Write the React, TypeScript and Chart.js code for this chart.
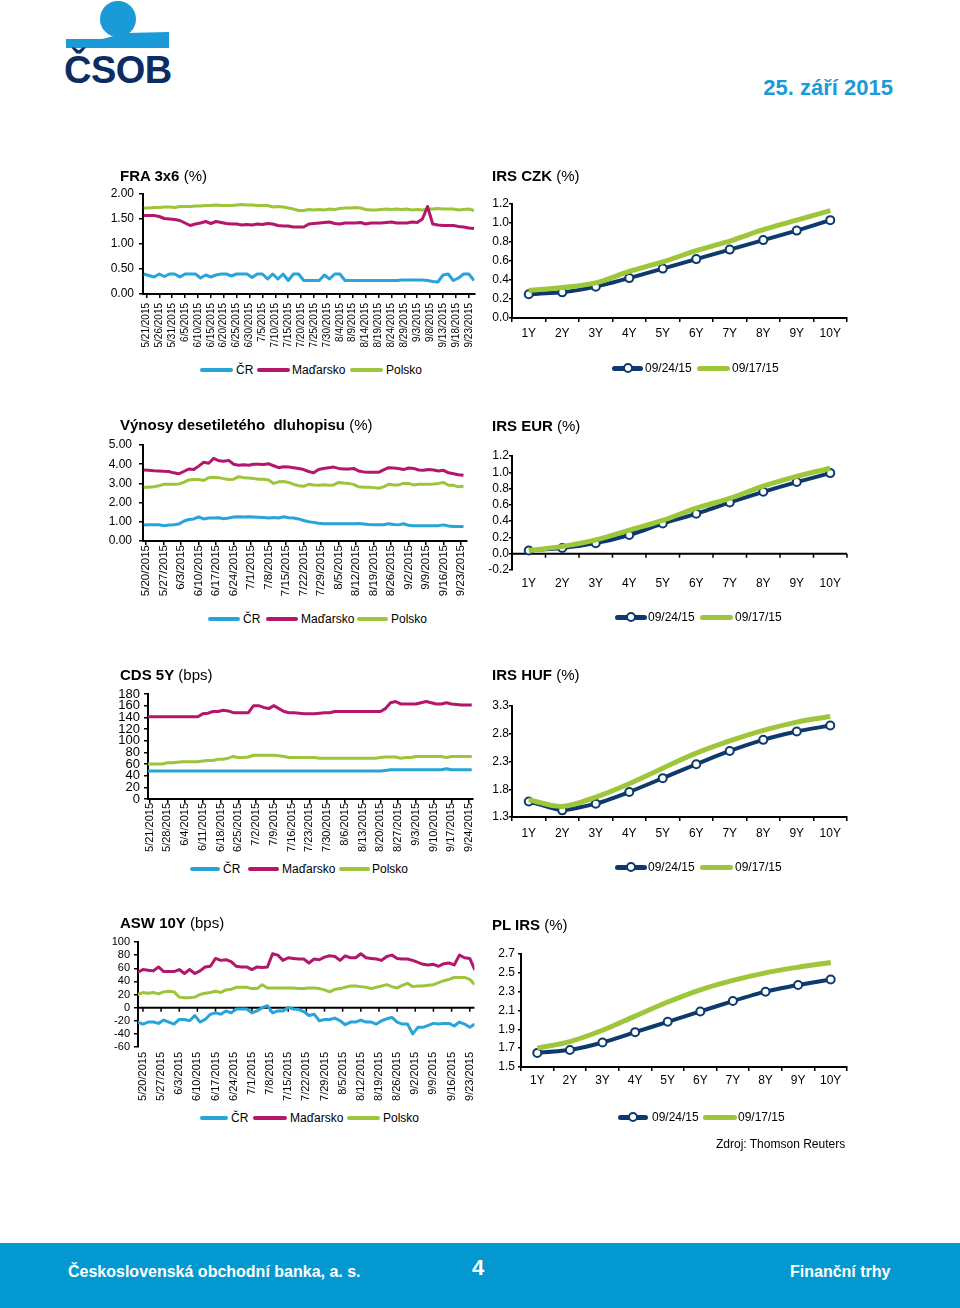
import React, { useEffect, useRef } from "react";
import { Chart, registerables } from "chart.js";

Chart.register(...registerables);

const FONT = "'Liberation Sans', Arial, Helvetica, sans-serif";
Chart.defaults.font.family = FONT;
Chart.defaults.color = "#000";

// ---------- colours ----------
const C_CR = "#27A4D8";
const C_HU = "#B3166A";
const C_PL = "#9DC43A";
const C_NAVY = "#0D3A6C";
const C_GREEN = "#9DC63B";
const C_BRAND = "#1A9AD6";

// ---------- series names ----------
const tsNames = ["ČR", "Maďarsko", "Polsko"];
const irsNames = ["09/24/15", "09/17/15"];
const irsCategories = ["1Y", "2Y", "3Y", "4Y", "5Y", "6Y", "7Y", "8Y", "9Y", "10Y"];

// ---------- FRA 3x6 (%) : samples every 2 days starting 5/20/2015 ----------
const fraTickLabels = ["5/21/2015", "5/26/2015", "5/31/2015", "6/5/2015", "6/10/2015", "6/15/2015", "6/20/2015", "6/25/2015", "6/30/2015", "7/5/2015", "7/10/2015", "7/15/2015", "7/20/2015", "7/25/2015", "7/30/2015", "8/4/2015", "8/9/2015", "8/14/2015", "8/19/2015", "8/24/2015", "8/29/2015", "9/3/2015", "9/8/2015", "9/13/2015", "9/18/2015", "9/23/2015"];
const fraCR = [0.40, 0.37, 0.34, 0.40, 0.35, 0.40, 0.40, 0.34, 0.40, 0.40, 0.40, 0.32, 0.38, 0.34, 0.38, 0.40, 0.40, 0.36, 0.40, 0.40, 0.40, 0.33, 0.40, 0.40, 0.30, 0.40, 0.30, 0.40, 0.27, 0.40, 0.40, 0.27, 0.27, 0.27, 0.27, 0.38, 0.30, 0.40, 0.40, 0.27, 0.27, 0.27, 0.27, 0.27, 0.27, 0.27, 0.27, 0.27, 0.27, 0.27, 0.28, 0.28, 0.28, 0.28, 0.28, 0.27, 0.25, 0.24, 0.38, 0.40, 0.27, 0.32, 0.40, 0.40, 0.27];
const fraHU = [1.57, 1.57, 1.57, 1.55, 1.51, 1.50, 1.49, 1.47, 1.42, 1.37, 1.40, 1.42, 1.45, 1.41, 1.45, 1.43, 1.41, 1.40, 1.40, 1.38, 1.39, 1.38, 1.40, 1.39, 1.41, 1.40, 1.37, 1.36, 1.36, 1.34, 1.34, 1.34, 1.40, 1.41, 1.42, 1.43, 1.44, 1.41, 1.40, 1.42, 1.42, 1.42, 1.43, 1.40, 1.42, 1.42, 1.42, 1.43, 1.44, 1.42, 1.42, 1.42, 1.44, 1.43, 1.50, 1.75, 1.40, 1.38, 1.37, 1.37, 1.37, 1.35, 1.34, 1.32, 1.31];
const fraPL = [1.72, 1.72, 1.73, 1.73, 1.74, 1.74, 1.73, 1.75, 1.75, 1.75, 1.76, 1.76, 1.77, 1.77, 1.78, 1.77, 1.77, 1.77, 1.78, 1.79, 1.78, 1.78, 1.77, 1.77, 1.77, 1.74, 1.75, 1.74, 1.72, 1.70, 1.67, 1.67, 1.69, 1.68, 1.69, 1.68, 1.70, 1.69, 1.71, 1.72, 1.72, 1.73, 1.72, 1.69, 1.68, 1.68, 1.69, 1.70, 1.69, 1.70, 1.69, 1.70, 1.68, 1.69, 1.68, 1.70, 1.70, 1.71, 1.70, 1.70, 1.70, 1.68, 1.69, 1.70, 1.67];

// ---------- Výnosy desetiletého dluhopisu (%) : samples every 2 days starting 5/19/2015 ----------
const weeklyTickLabels = ["5/20/2015", "5/27/2015", "6/3/2015", "6/10/2015", "6/17/2015", "6/24/2015", "7/1/2015", "7/8/2015", "7/15/2015", "7/22/2015", "7/29/2015", "8/5/2015", "8/12/2015", "8/19/2015", "8/26/2015", "9/2/2015", "9/9/2015", "9/16/2015", "9/23/2015"];
const vynCR = [0.83, 0.84, 0.85, 0.85, 0.80, 0.83, 0.85, 0.88, 1.03, 1.12, 1.15, 1.25, 1.15, 1.20, 1.20, 1.21, 1.16, 1.20, 1.25, 1.26, 1.25, 1.26, 1.25, 1.24, 1.22, 1.20, 1.22, 1.20, 1.26, 1.21, 1.20, 1.15, 1.07, 1.00, 0.97, 0.92, 0.90, 0.90, 0.90, 0.90, 0.90, 0.90, 0.90, 0.91, 0.89, 0.86, 0.85, 0.85, 0.85, 0.90, 0.86, 0.84, 0.90, 0.82, 0.80, 0.80, 0.80, 0.80, 0.80, 0.80, 0.84, 0.78, 0.75, 0.75, 0.75];
const vynHU = [3.70, 3.68, 3.66, 3.65, 3.63, 3.62, 3.55, 3.50, 3.62, 3.75, 3.72, 3.90, 4.10, 4.05, 4.30, 4.18, 4.15, 4.20, 4.00, 3.95, 3.97, 3.95, 4.00, 4.00, 3.98, 4.02, 3.92, 3.82, 3.87, 3.85, 3.82, 3.78, 3.72, 3.62, 3.55, 3.72, 3.78, 3.82, 3.85, 3.78, 3.75, 3.75, 3.78, 3.65, 3.60, 3.58, 3.58, 3.58, 3.70, 3.82, 3.80, 3.78, 3.72, 3.80, 3.78, 3.70, 3.68, 3.72, 3.70, 3.65, 3.68, 3.55, 3.50, 3.45, 3.42];
const vynPL = [2.80, 2.80, 2.83, 2.88, 2.95, 2.95, 2.95, 2.97, 3.05, 3.18, 3.20, 3.20, 3.15, 3.30, 3.32, 3.30, 3.25, 3.20, 3.22, 3.35, 3.30, 3.28, 3.25, 3.22, 3.22, 3.18, 3.00, 3.08, 3.10, 3.05, 2.95, 2.88, 2.85, 2.95, 2.92, 2.90, 2.93, 2.90, 2.92, 3.05, 3.02, 3.00, 2.95, 2.82, 2.80, 2.80, 2.78, 2.75, 2.82, 2.95, 2.92, 2.92, 3.00, 3.00, 2.92, 2.95, 2.95, 2.95, 2.97, 3.00, 3.05, 2.90, 2.90, 2.82, 2.85];

// ---------- CDS 5Y (bps) : samples every 2 days starting 5/20/2015 ----------
const cdsTickLabels = ["5/21/2015", "5/28/2015", "6/4/2015", "6/11/2015", "6/18/2015", "6/25/2015", "7/2/2015", "7/9/2015", "7/16/2015", "7/23/2015", "7/30/2015", "8/6/2015", "8/13/2015", "8/20/2015", "8/27/2015", "9/3/2015", "9/10/2015", "9/17/2015", "9/24/2015"];
const cdsCR = [48, 48, 48, 48, 48, 48, 48, 48, 48, 48, 48, 48, 48, 48, 48, 48, 48, 48, 48, 48, 48, 48, 48, 48, 48, 48, 48, 48, 48, 48, 48, 48, 48, 48, 48, 48, 48, 48, 48, 48, 48, 48, 48, 48, 48, 48, 48, 49, 50, 50, 50, 50, 50, 50, 50, 50, 50, 50, 50, 52, 50, 50, 50, 50, 50];
const cdsHU = [141, 141, 141, 141, 141, 141, 141, 141, 141, 141, 141, 146, 147, 150, 150, 152, 151, 148, 148, 148, 148, 160, 160, 157, 155, 160, 155, 150, 148, 148, 147, 146, 146, 146, 147, 148, 148, 150, 150, 150, 150, 150, 150, 150, 150, 150, 150, 155, 165, 167, 163, 163, 163, 163, 165, 167, 165, 163, 163, 165, 163, 162, 161, 161, 161];
const cdsPL = [60, 60, 60, 60, 62, 62, 63, 64, 64, 64, 64, 65, 66, 66, 68, 68, 70, 73, 71, 71, 72, 75, 75, 75, 75, 75, 74, 73, 71, 71, 71, 71, 71, 71, 70, 70, 70, 70, 70, 70, 70, 70, 70, 70, 70, 70, 71, 72, 72, 72, 70, 71, 71, 73, 73, 73, 73, 73, 73, 71, 73, 73, 73, 73, 73];

// ---------- ASW 10Y (bps) : samples every 2 days starting 5/18/2015 ----------
const aswCR = [-22, -25, -22, -22, -24, -19, -22, -25, -18, -18, -20, -12, -22, -18, -10, -8, -10, -5, -8, -2, -2, -2, -8, -5, 0, 3, -8, -5, -5, 0, -2, -3, -6, -12, -10, -20, -18, -18, -16, -20, -26, -22, -22, -19, -22, -22, -25, -20, -17, -15, -22, -25, -25, -40, -30, -30, -27, -24, -25, -24, -24, -28, -22, -25, -30, -25];
const aswHU = [54, 58, 57, 56, 62, 55, 55, 55, 58, 52, 58, 52, 56, 62, 63, 75, 72, 73, 70, 63, 62, 62, 58, 62, 61, 62, 82, 80, 72, 76, 75, 74, 74, 68, 74, 73, 77, 79, 78, 72, 79, 76, 76, 82, 76, 75, 74, 72, 78, 80, 75, 74, 74, 72, 69, 66, 65, 66, 63, 67, 68, 65, 80, 76, 75, 57];
const aswPL = [20, 23, 22, 23, 21, 24, 25, 24, 16, 15, 15, 16, 20, 22, 23, 25, 23, 27, 28, 31, 31, 31, 29, 29, 35, 30, 30, 30, 30, 30, 30, 29, 29, 30, 30, 29, 27, 24, 28, 29, 31, 33, 33, 32, 31, 29, 31, 33, 35, 32, 30, 34, 37, 32, 33, 33, 34, 35, 38, 41, 43, 46, 46, 46, 43, 35];

// ---------- IRS curves ----------
const irsCzk0924 = [0.25, 0.27, 0.33, 0.42, 0.52, 0.62, 0.72, 0.82, 0.92, 1.03];
const irsCzk0917 = [0.29, 0.32, 0.37, 0.49, 0.59, 0.71, 0.81, 0.93, 1.03, 1.13];
const irsEur0924 = [0.04, 0.07, 0.13, 0.23, 0.37, 0.49, 0.63, 0.76, 0.88, 0.99];
const irsEur0917 = [0.04, 0.09, 0.17, 0.29, 0.41, 0.56, 0.68, 0.83, 0.95, 1.05];
const irsHuf0924 = [1.58, 1.42, 1.54, 1.75, 2.0, 2.25, 2.49, 2.69, 2.84, 2.95];
const irsHuf0917 = [1.61, 1.49, 1.66, 1.9, 2.18, 2.45, 2.67, 2.86, 3.01, 3.11];
const irsPln0924 = [1.65, 1.68, 1.76, 1.87, 1.98, 2.09, 2.2, 2.3, 2.37, 2.43];
const irsPln0917 = [1.7, 1.77, 1.89, 2.04, 2.19, 2.32, 2.42, 2.5, 2.56, 2.61];

const irsCzkTicks = [0, 0.2, 0.4, 0.6, 0.8, 1.0, 1.2];
const irsEurTicks = [-0.2, 0, 0.2, 0.4, 0.6, 0.8, 1.0, 1.2];
const irsHufTicks = [1.3, 1.8, 2.3, 2.8, 3.3];
const irsPlnTicks = [1.5, 1.7, 1.9, 2.1, 2.3, 2.5, 2.7];

// ---------- helpers ----------
type Area = { l: number; r: number; t: number; b: number };
type Geo = { area: Area; yw: number; xh: number; pt: number; pr: number };

const zeroLinePlugin = (mode: "ticks" | "between") => ({
  id: "zeroLine",
  beforeDatasetsDraw(chart: any) {
    const { ctx, chartArea, scales } = chart;
    const x = scales.x;
    const y = scales.y;
    const y0 = y.getPixelForValue(0);
    ctx.save();
    ctx.strokeStyle = "#000";
    ctx.lineWidth = 2;
    ctx.beginPath();
    ctx.moveTo(chartArea.left, y0);
    ctx.lineTo(chartArea.right, y0);
    ctx.stroke();
    let xs: number[] = [];
    if (mode === "ticks") {
      xs = x.ticks.map((t: any) => x.getPixelForValue(t.value));
    } else {
      const n = x.ticks.length;
      for (let i = 0; i <= n; i++) xs.push(chartArea.left + ((chartArea.right - chartArea.left) * i) / n);
    }
    ctx.lineWidth = 1.5;
    ctx.beginPath();
    xs.forEach((px) => {
      ctx.moveTo(px, y0);
      ctx.lineTo(px, y0 + 4);
    });
    ctx.stroke();
    ctx.restore();
  },
});

function ChartCanvas({ geo, build }: { geo: Geo; build: (g: Geo) => any }) {
  const ref = useRef<HTMLCanvasElement | null>(null);
  const l = Math.round(geo.area.l);
  const t = Math.round(geo.area.t);
  const w = Math.round(geo.area.r - geo.area.l);
  const h = Math.round(geo.area.b - geo.area.t);
  const cw = geo.yw + w + geo.pr;
  const ch = geo.pt + h + geo.xh;
  useEffect(() => {
    const chart = new Chart(ref.current as HTMLCanvasElement, build(geo));
    return () => chart.destroy();
  }, []);
  return (
    <canvas
      ref={ref}
      width={cw}
      height={ch}
      style={{ position: "absolute", left: l - geo.yw, top: t - geo.pt, width: cw, height: ch }}
    />
  );
}

interface TsSpec {
  start: number;
  step: number;
  cr: number[];
  hu: number[];
  pl: number[];
  xMin: number;
  xMax: number;
  tickStep: number;
  tickLabels: string[];
  yMin: number;
  yMax: number;
  yStep: number;
  yDec: number;
  yFont: number;
  yPad: number;
  xFont: number;
  xTick: number;
  xPad: number;
  zero?: boolean;
}

function tsBuild(s: TsSpec) {
  return (g: Geo) => {
    const pts = (arr: number[]) => arr.map((v, i) => ({ x: s.start + i * s.step, y: v }));
    const colors = [C_CR, C_HU, C_PL];
    const series = [s.cr, s.hu, s.pl];
    return {
      type: "line",
      data: {
        datasets: series.map((arr, i) => ({
          label: tsNames[i],
          data: pts(arr),
          borderColor: colors[i],
          backgroundColor: colors[i],
          borderWidth: 3,
          pointRadius: 0,
          tension: 0,
          fill: false,
          borderJoinStyle: "round",
        })),
      },
      options: {
        responsive: false,
        animation: false,
        events: [],
        layout: { padding: { top: g.pt, right: g.pr, left: 0, bottom: 0 } },
        plugins: { legend: { display: false }, tooltip: { enabled: false }, title: { display: false } },
        scales: {
          x: {
            type: "linear",
            min: s.xMin,
            max: s.xMax,
            afterBuildTicks: (sc: any) => {
              sc.ticks = s.tickLabels.map((_, i) => ({ value: i * s.tickStep }));
            },
            afterFit: (sc: any) => {
              sc.height = g.xh;
            },
            ticks: {
              autoSkip: false,
              maxRotation: 90,
              minRotation: 90,
              font: { size: s.xFont, lineHeight: 1.1 },
              padding: s.xPad,
              color: "#000",
              callback: (_v: any, i: number) => s.tickLabels[i],
            },
            grid: s.zero
              ? { display: false, drawTicks: false }
              : { display: true, drawOnChartArea: false, drawTicks: true, tickLength: s.xTick, color: "#000", lineWidth: 1.5 },
            border: s.zero ? { display: false } : { display: true, color: "#000", width: 2 },
          },
          y: {
            min: s.yMin,
            max: s.yMax,
            afterFit: (sc: any) => {
              sc.width = g.yw;
            },
            ticks: {
              stepSize: s.yStep,
              autoSkip: false,
              font: { size: s.yFont, lineHeight: 1 },
              padding: s.yPad,
              color: "#000",
              callback: (v: any) => Number(v).toFixed(s.yDec),
            },
            grid: { display: true, drawOnChartArea: false, drawTicks: true, tickLength: 4, color: "#000", lineWidth: 1.5 },
            border: { display: true, color: "#000", width: 2 },
          },
        },
      },
      plugins: s.zero ? [zeroLinePlugin("ticks")] : [],
    };
  };
}

interface IrsSpec {
  a: number[];
  b: number[];
  yTicks: number[];
  xTick: number;
  xPad: number;
  yPad: number;
  zero?: boolean;
}

function irsBuild(s: IrsSpec) {
  return (g: Geo) => ({
    type: "line",
    data: {
      labels: irsCategories,
      datasets: [
        {
          label: irsNames[0],
          data: s.a,
          borderColor: C_NAVY,
          backgroundColor: C_NAVY,
          borderWidth: 4,
          pointRadius: 4,
          pointBorderWidth: 2,
          pointBackgroundColor: "#fff",
          pointBorderColor: C_NAVY,
          tension: 0.15,
          order: 1,
        },
        {
          label: irsNames[1],
          data: s.b,
          borderColor: C_GREEN,
          backgroundColor: C_GREEN,
          borderWidth: 5,
          pointRadius: 0,
          tension: 0.35,
          order: 0,
        },
      ],
    },
    options: {
      responsive: false,
      animation: false,
      events: [],
      layout: { padding: { top: g.pt, right: g.pr, left: 0, bottom: 0 } },
      plugins: { legend: { display: false }, tooltip: { enabled: false }, title: { display: false } },
      scales: {
        x: {
          type: "category",
          offset: true,
          afterFit: (sc: any) => {
            sc.height = g.xh;
          },
          ticks: { font: { size: 12 }, padding: s.xPad, color: "#000", maxRotation: 0, autoSkip: false },
          grid: s.zero
            ? { display: false, drawTicks: false }
            : { display: true, offset: true, drawOnChartArea: false, drawTicks: true, tickLength: s.xTick, color: "#000", lineWidth: 1.5 },
          border: s.zero ? { display: false } : { display: true, color: "#000", width: 2 },
        },
        y: {
          min: s.yTicks[0],
          max: s.yTicks[s.yTicks.length - 1],
          afterBuildTicks: (sc: any) => {
            sc.ticks = s.yTicks.map((v) => ({ value: v }));
          },
          afterFit: (sc: any) => {
            sc.width = g.yw;
          },
          ticks: {
            autoSkip: false,
            font: { size: 12, lineHeight: 1 },
            padding: s.yPad,
            color: "#000",
            callback: (v: any) => Number(v).toFixed(1),
          },
          grid: { display: true, drawOnChartArea: false, drawTicks: true, tickLength: 3, color: "#000", lineWidth: 1.5 },
          border: { display: true, color: "#000", width: 2 },
        },
      },
    },
    plugins: s.zero ? [zeroLinePlugin("between")] : [],
  });
}

// ---------- legends & titles ----------
type LegItem = { x1: number; x2: number; tx: number; label: string; color: string; marker?: boolean; th: number };

function Legend({ y, items }: { y: number; items: LegItem[] }) {
  return (
    <>
      {items.map((it, i) => (
        <React.Fragment key={i}>
          <div
            style={{
              position: "absolute",
              left: it.x1,
              top: y - it.th / 2,
              width: it.x2 - it.x1,
              height: it.th,
              background: it.color,
              borderRadius: it.th / 2,
            }}
          />
          {it.marker && (
            <div
              style={{
                position: "absolute",
                left: (it.x1 + it.x2) / 2 - 5,
                top: y - 5,
                width: 10,
                height: 10,
                boxSizing: "border-box",
                border: `2px solid ${it.color}`,
                borderRadius: "50%",
                background: "#fff",
              }}
            />
          )}
          <div style={{ position: "absolute", left: it.tx, top: y - 8, fontSize: 12, lineHeight: "16px", whiteSpace: "nowrap" }}>
            {it.label}
          </div>
        </React.Fragment>
      ))}
    </>
  );
}

function tsLegend(y: number, p: number[]) {
  // p: [crX1, crX2, crT, huX1, huX2, huT, plX1, plX2, plT]
  const colors = [C_CR, C_HU, C_PL];
  return (
    <Legend
      y={y}
      items={tsNames.map((n, i) => ({ x1: p[i * 3], x2: p[i * 3 + 1], tx: p[i * 3 + 2], label: n, color: colors[i], th: 4 }))}
    />
  );
}

function irsLegend(y: number, p: number[]) {
  return (
    <Legend
      y={y}
      items={[
        { x1: p[0], x2: p[1], tx: p[2], label: irsNames[0], color: C_NAVY, marker: true, th: 5 },
        { x1: p[3], x2: p[4], tx: p[5], label: irsNames[1], color: C_GREEN, th: 5 },
      ]}
    />
  );
}

function Title({ x, y, bold, rest }: { x: number; y: number; bold: string; rest: string }) {
  return (
    <div style={{ position: "absolute", left: x, top: y - 9, fontSize: 15, lineHeight: "18px", whiteSpace: "pre" }}>
      <span style={{ fontWeight: "bold" }}>{bold}</span>
      {rest}
    </div>
  );
}

// ---------- chart specs ----------
const fraGeo: Geo = { area: { l: 143, r: 475, t: 194, b: 294 }, yw: 45, xh: 60, pt: 12, pr: 10 };
const vynGeo: Geo = { area: { l: 143, r: 467, t: 444, b: 541 }, yw: 45, xh: 62, pt: 12, pr: 10 };
const cdsGeo: Geo = { area: { l: 148, r: 473, t: 694, b: 799 }, yw: 45, xh: 62, pt: 12, pr: 10 };
const aswGeo: Geo = { area: { l: 138, r: 477, t: 942, b: 1047 }, yw: 40, xh: 60, pt: 12, pr: 10 };

const czkGeo: Geo = { area: { l: 512, r: 847, t: 204, b: 318 }, yw: 40, xh: 30, pt: 12, pr: 10 };
const eurGeo: Geo = { area: { l: 512, r: 847, t: 456, b: 570 }, yw: 40, xh: 30, pt: 12, pr: 10 };
const hufGeo: Geo = { area: { l: 512, r: 847, t: 706, b: 817 }, yw: 40, xh: 30, pt: 12, pr: 10 };
const plnGeo: Geo = { area: { l: 521, r: 847, t: 954, b: 1067 }, yw: 40, xh: 30, pt: 12, pr: 10 };

const fraBuild = tsBuild({
  start: -1, step: 2, cr: fraCR, hu: fraHU, pl: fraPL,
  xMin: -1.3, xMax: 127.2, tickStep: 5, tickLabels: fraTickLabels,
  yMin: 0, yMax: 2, yStep: 0.5, yDec: 2, yFont: 12, yPad: 5,
  xFont: 10, xTick: 4, xPad: 5,
});
const vynBuild = tsBuild({
  start: -1, step: 2, cr: vynCR, hu: vynHU, pl: vynPL,
  xMin: -1.3, xMax: 128.4, tickStep: 7, tickLabels: weeklyTickLabels,
  yMin: 0, yMax: 5, yStep: 1, yDec: 2, yFont: 12, yPad: 7,
  xFont: 11.5, xTick: 4, xPad: 0,
});
const cdsBuild = tsBuild({
  start: -1, step: 2, cr: cdsCR, hu: cdsHU, pl: cdsPL,
  xMin: -0.6, xMax: 127.5, tickStep: 7, tickLabels: cdsTickLabels,
  yMin: 0, yMax: 180, yStep: 20, yDec: 0, yFont: 13, yPad: 4,
  xFont: 11, xTick: 4, xPad: 0,
});
const aswBuild = tsBuild({
  start: -2, step: 2, cr: aswCR, hu: aswHU, pl: aswPL,
  xMin: -1.9, xMax: 127.8, tickStep: 7, tickLabels: weeklyTickLabels,
  yMin: -60, yMax: 100, yStep: 20, yDec: 0, yFont: 11, yPad: 4,
  xFont: 11, xTick: 0, xPad: 5, zero: true,
});

const czkBuild = irsBuild({ a: irsCzk0924, b: irsCzk0917, yTicks: irsCzkTicks, xTick: 4, xPad: 4, yPad: 0 });
const eurBuild = irsBuild({ a: irsEur0924, b: irsEur0917, yTicks: irsEurTicks, xTick: 0, xPad: 6, yPad: 0, zero: true });
const hufBuild = irsBuild({ a: irsHuf0924, b: irsHuf0917, yTicks: irsHufTicks, xTick: 4, xPad: 5, yPad: 0 });
const plnBuild = irsBuild({ a: irsPln0924, b: irsPln0917, yTicks: irsPlnTicks, xTick: 4, xPad: 2, yPad: 3 });

// ---------- page ----------
function Logo() {
  return (
    <>
      <div
        style={{
          position: "absolute",
          left: 100,
          top: 1,
          width: 36,
          height: 36,
          borderRadius: "50%",
          background: C_BRAND,
        }}
      />
      <div
        style={{
          position: "absolute",
          left: 66,
          top: 31,
          width: 103,
          height: 17,
          background: C_BRAND,
          clipPath: "polygon(0px 8px, 36px 8px, 60px 2px, 103px 1px, 103px 17px, 0px 17px)",
        }}
      />
      <div
        style={{
          position: "absolute",
          left: 64,
          top: 51,
          fontSize: 38,
          lineHeight: "38px",
          fontWeight: 900,
          color: "#0B2D62",
          letterSpacing: -0.5,
        }}
      >
        ČSOB
      </div>
    </>
  );
}

export default function App() {
  return (
    <div
      style={{
        position: "absolute",
        left: 0,
        top: 0,
        width: 960,
        height: 1308,
        overflow: "hidden",
        background: "#fff",
        fontFamily: FONT,
        color: "#000",
      }}
    >
      <Logo />
      <div
        style={{
          position: "absolute",
          right: 67,
          top: 75,
          fontSize: 22,
          lineHeight: "26px",
          fontWeight: "bold",
          color: C_BRAND,
        }}
      >
        25. září 2015
      </div>

      <ChartCanvas geo={fraGeo} build={fraBuild} />
      <ChartCanvas geo={vynGeo} build={vynBuild} />
      <ChartCanvas geo={cdsGeo} build={cdsBuild} />
      <ChartCanvas geo={aswGeo} build={aswBuild} />
      <ChartCanvas geo={czkGeo} build={czkBuild} />
      <ChartCanvas geo={eurGeo} build={eurBuild} />
      <ChartCanvas geo={hufGeo} build={hufBuild} />
      <ChartCanvas geo={plnGeo} build={plnBuild} />

      <Title x={120} y={176} bold="FRA 3x6" rest=" (%)" />
      <Title x={492} y={176} bold="IRS CZK" rest=" (%)" />
      <Title x={120} y={425} bold="Výnosy desetiletého  dluhopisu" rest=" (%)" />
      <Title x={492} y={426} bold="IRS EUR" rest=" (%)" />
      <Title x={120} y={675} bold="CDS 5Y" rest=" (bps)" />
      <Title x={492} y={675} bold="IRS HUF" rest=" (%)" />
      <Title x={120} y={923} bold="ASW 10Y" rest=" (bps)" />
      <Title x={492} y={925} bold="PL IRS" rest=" (%)" />

      {tsLegend(370, [200, 233, 236, 257, 290, 292, 350, 383, 386])}
      {tsLegend(619, [208, 240, 243, 266, 298, 301, 357, 388, 391])}
      {tsLegend(869, [190, 220, 223, 248, 279, 282, 339, 370, 372])}
      {tsLegend(1118, [200, 228, 231, 253, 287, 290, 347, 380, 383])}

      {irsLegend(368, [612, 643, 645, 697, 730, 732])}
      {irsLegend(617, [615, 647, 648, 700, 733, 735])}
      {irsLegend(867, [615, 647, 648, 700, 733, 735])}
      {irsLegend(1117, [618, 648, 652, 703, 737, 738])}

      <div style={{ position: "absolute", left: 716, top: 1136, fontSize: 12, lineHeight: "16px", whiteSpace: "nowrap" }}>
        Zdroj: Thomson Reuters
      </div>

      <div style={{ position: "absolute", left: 0, top: 1243, width: 960, height: 65, background: "#0399D0" }} />
      <div
        style={{
          position: "absolute",
          left: 68,
          top: 1262,
          fontSize: 16,
          lineHeight: "20px",
          fontWeight: "bold",
          color: "#fff",
          whiteSpace: "nowrap",
        }}
      >
        Československá obchodní banka, a. s.
      </div>
      <div
        style={{
          position: "absolute",
          left: 472,
          top: 1255,
          fontSize: 22,
          lineHeight: "26px",
          fontWeight: "bold",
          color: "#fff",
        }}
      >
        4
      </div>
      <div
        style={{
          position: "absolute",
          left: 790,
          top: 1262,
          fontSize: 16,
          lineHeight: "20px",
          fontWeight: "bold",
          color: "#fff",
          whiteSpace: "nowrap",
        }}
      >
        Finanční trhy
      </div>
    </div>
  );
}
